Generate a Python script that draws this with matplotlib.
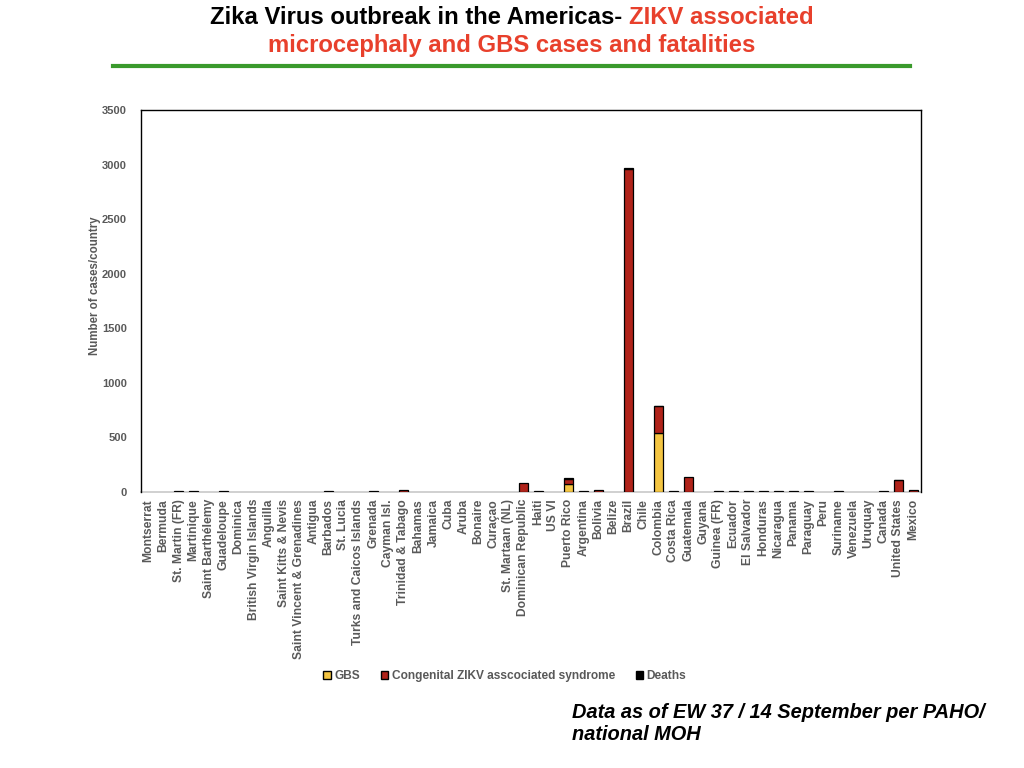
import matplotlib
matplotlib.use("Agg")
import matplotlib.pyplot as plt
from matplotlib.patches import Patch
import numpy as np

plt.rcParams['font.family'] = ['Liberation Sans', 'DejaVu Sans']

countries = ["Montserrat", "Bermuda", "St. Martin (FR)", "Martinique", "Saint Barthélemy",
             "Guadeloupe", "Dominica", "British Virgin Islands", "Anguilla", "Saint Kitts & Nevis",
             "Saint Vincent & Grenadines", "Antigua", "Barbados", "St. Lucia",
             "Turks and Caicos Islands", "Grenada", "Cayman Isl.", "Trinidad & Tabago",
             "Bahamas", "Jamaica", "Cuba", "Aruba", "Bonaire", "Curaçao", "St. Martaan (NL)",
             "Dominican Republic", "Haiti", "US VI", "Puerto Rico", "Argentina", "Bolivia",
             "Belize", "Brazil", "Chile", "Colombia", "Costa Rica", "Guatemala", "Guyana",
             "Guinea (FR)", "Ecuador", "El Salvador", "Honduras", "Nicaragua", "Panama",
             "Paraguay", "Peru", "Suriname", "Venezuela", "Uruquay", "Canada",
             "United States", "Mexico"]

gbs = [0, 0, 0, 0, 0, 0, 0, 0, 0, 0,
       0, 0, 0, 0, 0, 0, 0, 0, 0, 0,
       0, 0, 0, 0, 0, 0, 0, 0, 70, 0,
       0, 0, 0, 0, 540, 0, 0, 0, 0, 0,
       0, 0, 0, 0, 0, 0, 0, 0, 0, 0,
       0, 0]

congenital = [0, 0, 6, 6, 0, 6, 0, 0, 0, 0,
              0, 0, 6, 0, 0, 6, 0, 16, 0, 0,
              0, 0, 0, 0, 0, 82, 6, 0, 46, 6,
              18, 0, 2955, 0, 245, 6, 137, 0, 6, 6,
              6, 6, 6, 6, 6, 0, 6, 0, 0, 6,
              106, 18]

deaths = [0, 0, 0, 0, 0, 0, 0, 0, 0, 0,
          0, 0, 0, 0, 0, 0, 0, 0, 0, 0,
          0, 0, 0, 0, 0, 0, 0, 0, 8, 0,
          0, 0, 12, 0, 3, 0, 0, 0, 0, 0,
          0, 0, 0, 0, 0, 0, 0, 0, 0, 0,
          8, 0]

c_gbs = "#F4C542"
c_con = "#B0231A"
c_dea = "#000000"
gray = "#595959"

fig = plt.figure(figsize=(10.24, 7.68), dpi=100)
ax = fig.add_axes([0.1377, 0.3594, 0.7617, 0.4974])

x = np.arange(len(countries))
g = np.array(gbs, dtype=float)
c = np.array(congenital, dtype=float)
d = np.array(deaths, dtype=float)
w = 0.6


def stacked(vals, bottom, color):
    m = vals > 0
    ax.bar(x[m], vals[m], w, bottom=bottom[m], color=color, edgecolor="black",
           linewidth=0.9, zorder=3)


stacked(g, np.zeros_like(g), c_gbs)
stacked(c, g, c_con)
stacked(d, g + c, c_dea)

ax.set_xlim(-0.5, len(countries) - 0.5)
ax.set_ylim(0, 3500)
ax.set_yticks(np.arange(0, 3501, 500))
ax.set_xticks(x)
ax.set_xticklabels(countries, rotation=90, fontsize=8.7, fontweight='bold', color=gray)
ax.tick_params(axis='y', labelsize=8, labelcolor=gray, length=0, pad=10)
for lab in ax.get_yticklabels():
    lab.set_fontweight('bold')
ax.tick_params(axis='x', length=0, pad=5)
ax.set_ylabel("Number of cases/country", fontsize=8.3, fontweight='bold', color=gray, labelpad=1)
ax.yaxis.label.set_y(0.54)
for s in ['left', 'top', 'right']:
    ax.spines[s].set_color('black')
    ax.spines[s].set_linewidth(1.0)
ax.spines['bottom'].set_color('#C8C8C8')
ax.spines['bottom'].set_linewidth(1.2)
ax.spines['bottom'].set_zorder(1)

handles = [Patch(facecolor=c_gbs, edgecolor='black', label='GBS'),
           Patch(facecolor=c_con, edgecolor='black', label='Congenital ZIKV asscociated syndrome'),
           Patch(facecolor=c_dea, edgecolor='black', label='Deaths')]
leg = fig.legend(handles=handles, loc='center', bbox_to_anchor=(0.493, 0.1198), ncol=3,
                 frameon=False, handlelength=0.6, handleheight=0.6, handletextpad=0.3,
                 columnspacing=1.75, prop={'size': 8.6, 'weight': 'bold'})
for t in leg.get_texts():
    t.set_color(gray)

# Title
t1 = fig.text(0.205, 0.977, "Zika Virus outbreak in the Americas- ", ha='left', va='center',
              fontsize=17.2, fontweight='bold', color='black')
fig.canvas.draw()
bb = t1.get_window_extent()
fig.text(bb.x1 / fig.bbox.width, 0.977, "ZIKV associated", ha='left', va='center',
         fontsize=17.2, fontweight='bold', color='#E8402C')
fig.text(0.5, 0.941, "microcephaly and GBS cases and fatalities", ha='center', va='center',
         fontsize=17.2, fontweight='bold', color='#E8402C')
fig.add_artist(plt.Line2D([0.110, 0.889], [0.914, 0.914], color='#3A9A2C', linewidth=3))

fig.text(0.559, 0.058, "Data as of EW 37 / 14 September per PAHO/\nnational MOH", ha='left', va='center',
         fontsize=14.4, fontweight='bold', style='italic', color='black', linespacing=1.2)

fig.savefig("out.png", dpi=100)
